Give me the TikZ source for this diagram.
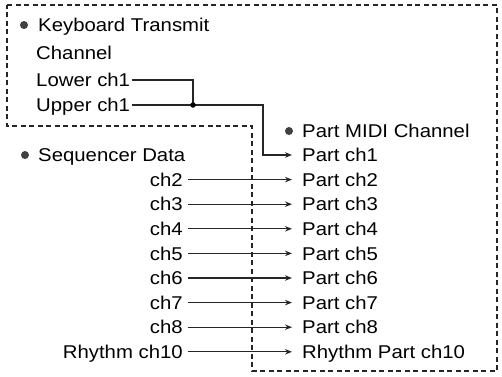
\documentclass[tikz,border=0pt]{standalone}
\usepackage{fontspec}
\setmainfont{Liberation Sans}[FakeStretch=1.1]
\usetikzlibrary{arrows.meta}
\begin{document}
\begin{tikzpicture}[x=1pt,y=1pt,
  lbl/.style={inner xsep=1.5pt, inner ysep=0pt, text height=13.2pt, text depth=0pt, font=\fontsize{18.5}{20}\selectfont},
  conn/.style={line width=1.2pt, black!85},
  arr/.style={conn, -{Stealth[length=7pt,width=5.5pt]}, shorten >=8.5pt},
  frame/.style={line width=1.5pt, dash pattern=on 5pt off 3.5pt, black!85},
  bul/.style={circle, fill=black!75, inner sep=0pt, minimum size=8pt},
  jdot/.style={circle, fill=black, inner sep=0pt, minimum size=5.5pt}]
\useasboundingbox (0,0) rectangle (502,376);
\draw[frame] (7,371) -- (497,371) -- (497,5) -- (252,5) -- (252,250) -- (7,250) -- cycle;
% keyboard transmit block
\node[bul] (b1) at (24,351) {};
\node[lbl, anchor=west] (kt) at (36.5,351) {Keyboard Transmit};
\node[lbl, anchor=west] (chn) at (34.5,323) {Channel};
\node[lbl, anchor=west] (low) at (34.5,296) {Lower ch1};
\node[lbl, anchor=west] (up) at (34.5,271) {Upper ch1};
% part midi channel
\node[bul] (b2) at (289,245) {};
\node[lbl, anchor=west] (pm) at (300.5,245) {Part MIDI Channel};
% sequencer data
\node[bul] (b3) at (25,221) {};
\node[lbl, anchor=west] (sd) at (36.5,221) {Sequencer Data};
\node[lbl, anchor=west] (p1) at (300.5,221) {Part ch1};
\foreach \n/\yy in {2/196.4,3/171.8,4/147.2,5/122.6,6/98,7/73.4,8/48.8}{
  \node[lbl, anchor=east] (s\n) at (184.5,\yy) {ch\n};
  \node[lbl, anchor=west] (p\n) at (300.5,\yy) {Part ch\n};
  \draw[arr, shorten <=3pt] (s\n.east) -- (p\n.west);
}
\node[lbl, anchor=east] (s10) at (184.5,24.2) {Rhythm ch10};
\node[lbl, anchor=west] (p10) at (300.5,24.2) {Rhythm Part ch10};
\draw[arr, shorten <=3pt] (s10.east) -- (p10.west);
% keyboard connectors
\coordinate (jn) at (193,271);
\coordinate (bend) at (263,271);
\draw[conn] (low.east) -| (jn);
\draw[arr] (up.east) -- (bend) |- (p1.west);
\node[jdot] (jd) at (jn) {};
\end{tikzpicture}
\end{document}
